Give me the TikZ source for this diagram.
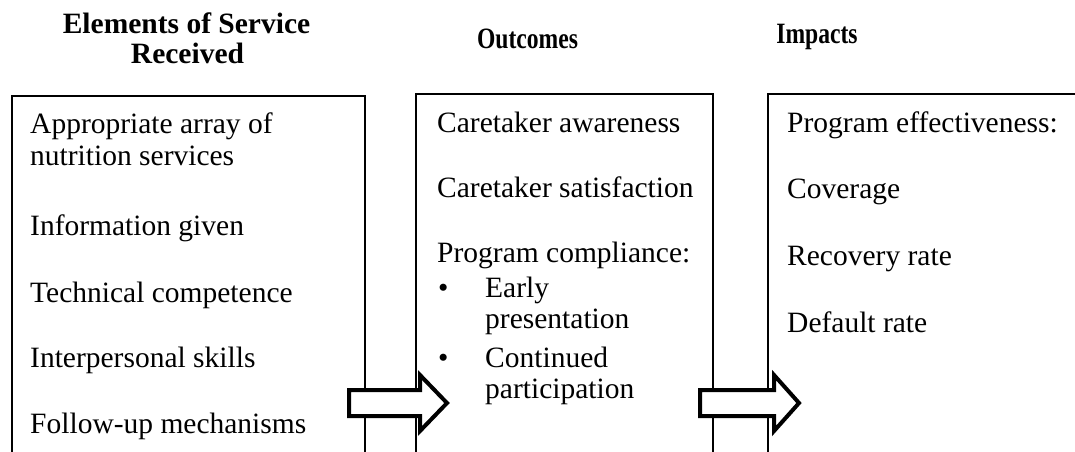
\documentclass[tikz,border=0pt]{standalone}
\usepackage{graphicx}
\usepackage{fontspec}
\setmainfont{Liberation Serif}

\begin{document}
\begin{tikzpicture}[x=1pt,y=-1pt,
  heading/.style={font=\fontsize{29.5}{32}\selectfont\bfseries, inner sep=0pt, anchor=base},
  item/.style={font=\fontsize{29.5}{32}\selectfont, inner sep=0pt, anchor=base west},
  panel/.style={draw, line width=1.6pt, anchor=north west, inner sep=0pt, outer sep=0pt},
  blockarrow/.style={draw, line width=4pt, fill=white, line join=miter}]
        \def \paneltop {96}
        \def \panelht {400pt}

        \useasboundingbox (0,0) rectangle (1075,451);
        \clip (0,0) rectangle (1075,451);

        % headings
        \node[heading] (head1a) at (186.5,33) {Elements of Service};
        \node[heading] (head1b) at (187.5,63) {Received};
        \node[heading] (head2) at (527.5,48) {\scalebox{0.8}[1]{Outcomes}};
        \node[heading] (head3) at (817,43) {\scalebox{0.8}[1]{Impacts}};

        % panels, open at the bottom edge
        \node[panel, minimum width=353pt, minimum height=\panelht] (service) at (12,\paneltop) {};
        \node[panel, minimum width=297pt, minimum height=\panelht] (outcomes) at (416,94) {};
        \node[panel, minimum width=400pt, minimum height=\panelht] (impacts) at (768,94) {};

        \foreach \txt/\yy [count=\i] in {Appropriate array of/133, nutrition services/165,
            Information given/235, Technical competence/302, Interpersonal skills/367,
            Follow-up mechanisms/433}{
          \node[item] (s\i) at (30,\yy) {\txt};
        }
        \foreach \txt/\yy [count=\i] in {Caretaker awareness/132, Caretaker satisfaction/197,
            Program compliance:/262}{
          \node[item] (o\i) at (437,\yy) {\txt};
        }
        \foreach \txt/\yy [count=\i] in {Early/297, presentation/328, Continued/367, participation/398}{
          \node[item] (c\i) at (485,\yy) {\txt};
        }
        \node[item] (bul1) at (438,297) {\textbullet};
        \node[item] (bul2) at (438,367) {\textbullet};
        \foreach \txt/\yy [count=\i] in {Program effectiveness:/132, Coverage/198,
            Recovery rate/265, Default rate/332}{
          \node[item] (p\i) at (787,\yy) {\txt};
        }

        % block arrows
        \foreach \t/\b/\p in {349/420/447, 700/774/799}{
          \draw[blockarrow] (\t,390) -- (\b,390) -- (\b,375) -- (\p,403)
            -- (\b,431) -- (\b,416) -- (\t,416) -- cycle;
        }
\end{tikzpicture}
\end{document}
